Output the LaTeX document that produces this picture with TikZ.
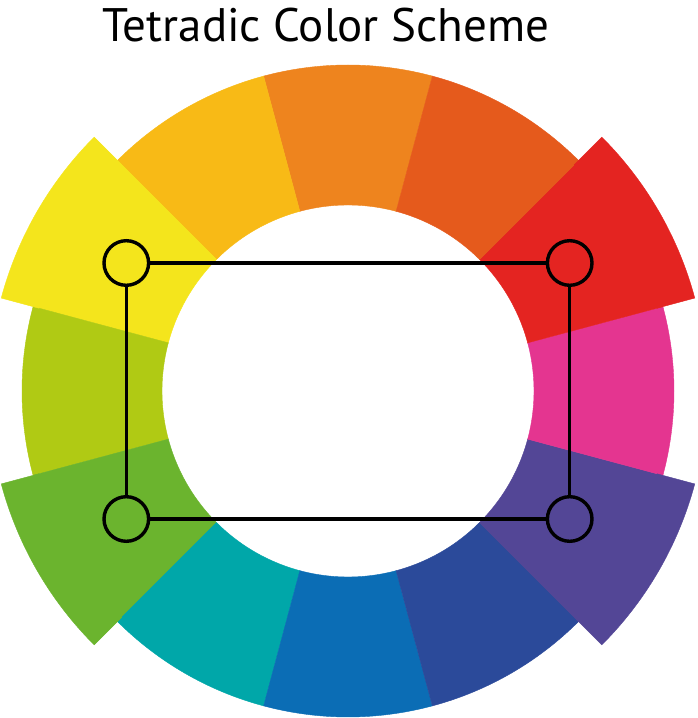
\documentclass[tikz,border=0pt]{standalone}
\usepackage{fontspec}
\setmainfont{PT Sans}
\definecolor{corange}{HTML}{EE841E}
\definecolor{cyorange}{HTML}{F8BA16}
\definecolor{cyellow}{HTML}{F4E51C}
\definecolor{clime}{HTML}{B0CA14}
\definecolor{cgreen}{HTML}{6BB42E}
\definecolor{cteal}{HTML}{00A7A9}
\definecolor{cblue}{HTML}{0B6DB5}
\definecolor{cdblue}{HTML}{2B4A9A}
\definecolor{cpurple}{HTML}{534696}
\definecolor{cmagenta}{HTML}{E43590}
\definecolor{cred}{HTML}{E42421}
\definecolor{credorange}{HTML}{E55A1C}
\tikzset{
  marker/.style={circle, draw=black, line width=3.4pt, minimum size=44.6pt, inner sep=0pt},
  link/.style={draw=black, line width=3.3pt},
  titletext/.style={anchor=base, font=\fontsize{47}{56}\selectfont}
}
\begin{document}
\begin{tikzpicture}[x=1pt,y=1pt]
\useasboundingbox (0,0) rectangle (698,718);
\node[titletext] (title) at (326,676) {Tetradic Color Scheme};
\begin{scope}[shift={(348,327)}]
  \foreach \a/\col in {75/corange,105/cyorange,135/cyellow,165/clime,195/cgreen,225/cteal,255/cblue,285/cdblue,315/cpurple,345/cmagenta,15/cred,45/credorange}{
    \pgfmathsetmacro\b{\a+30}
    \filldraw[fill=\col, draw=\col, line width=0.4pt] (\a:186pt) arc[start angle=\a, end angle=\b, radius=186pt] -- (\b:326pt) arc[start angle=\b, end angle=\a, radius=326pt] -- cycle;
  }
  \foreach \a/\col in {135/cyellow,195/cgreen,315/cpurple,15/cred}{
    \pgfmathsetmacro\b{\a+30}
    \filldraw[fill=\col, draw=\col, line width=0.4pt] (\a:320pt) arc[start angle=\a, end angle=\b, radius=320pt] -- (\b:359pt) arc[start angle=\b, end angle=\a, radius=359pt] -- cycle;
  }
  \node[marker] (my) at (150:256pt) {};
  \node[marker] (mg) at (210:256pt) {};
  \node[marker] (mr) at (30:256pt) {};
  \node[marker] (mp) at (330:256pt) {};
  \draw[link] (my) -- (mr);
  \draw[link] (mg) -- (mp);
  \draw[link] (my) -- (mg);
  \draw[link] (mr) -- (mp);
\end{scope}
\end{tikzpicture}
\end{document}
